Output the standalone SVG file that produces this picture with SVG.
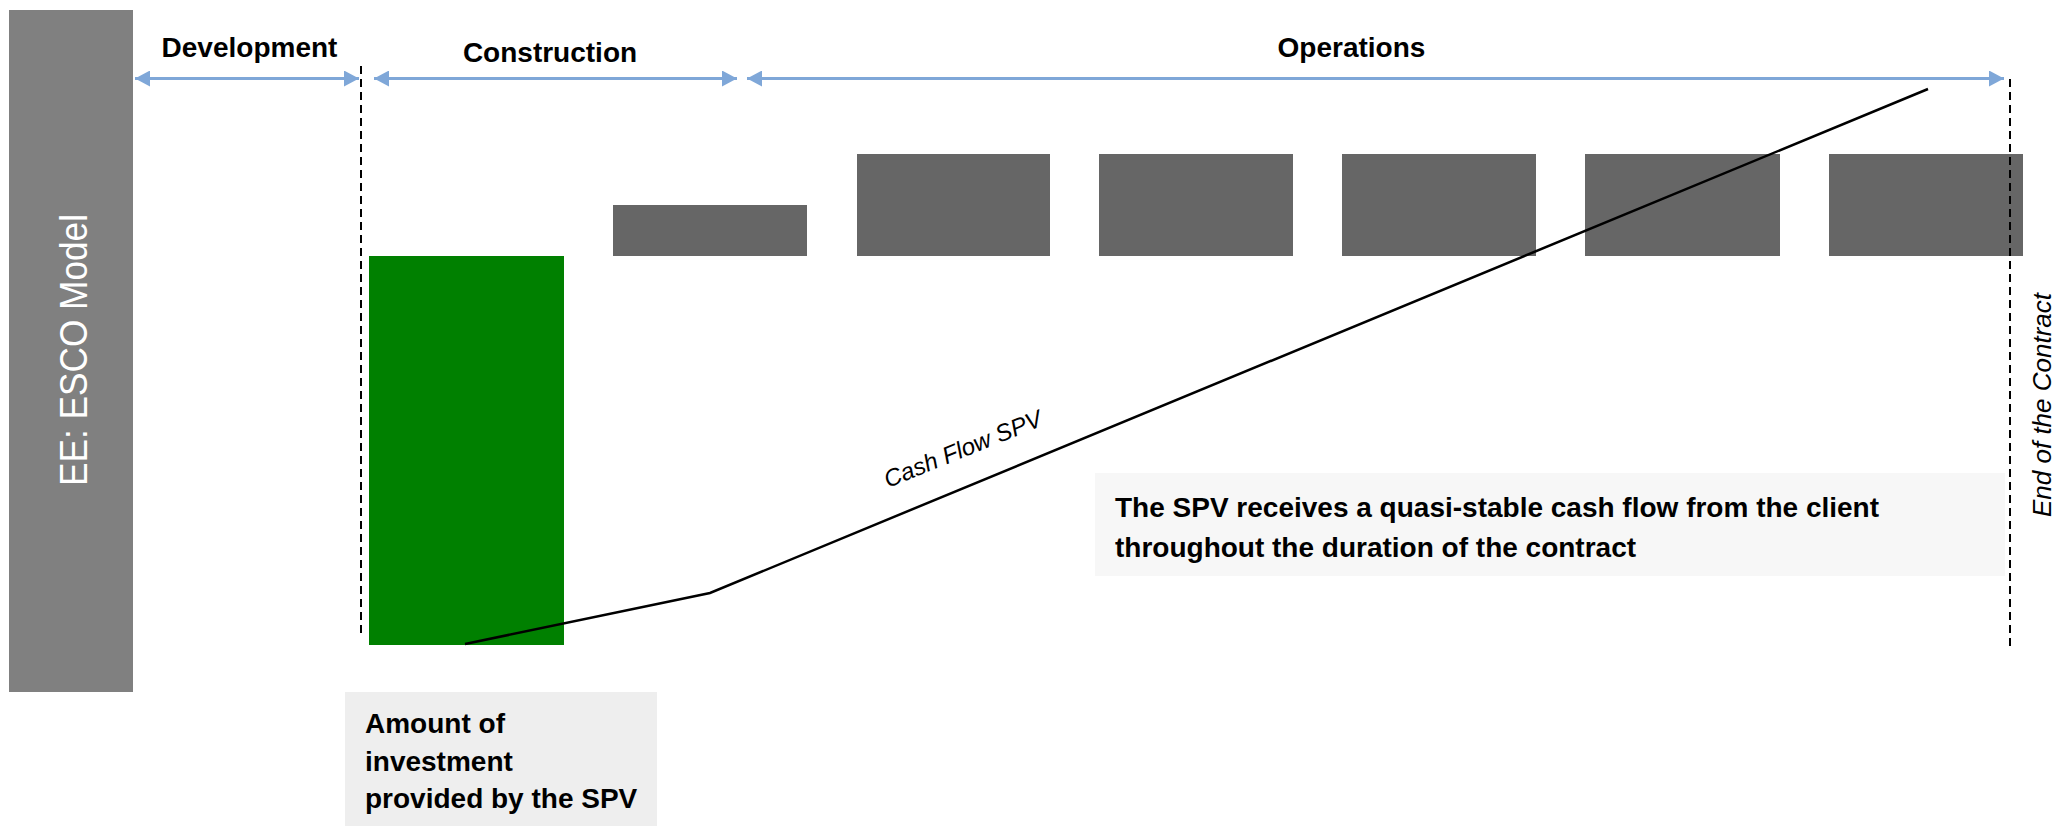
<svg xmlns="http://www.w3.org/2000/svg" width="2069" height="826" viewBox="0 0 2069 826">
  <style>
    .hdr { font-family: "Liberation Sans", Arial, sans-serif; font-weight: bold; font-size: 28px; fill: #000; text-anchor: middle; }
    .box { font-family: "Liberation Sans", Arial, sans-serif; font-weight: bold; font-size: 28px; fill: #000; }
    .ital { font-family: "Liberation Sans", Arial, sans-serif; font-style: italic; fill: #000; }
    .bar { fill: #666666; }
    .span { stroke: #7FA7D8; stroke-width: 3; fill: none; }
    .dash { stroke: #000; stroke-width: 2; stroke-dasharray: 8 5; fill: none; }
  </style>
  <defs>
    <marker id="ah" viewBox="0 0 15 16" refX="15" refY="8" markerWidth="15" markerHeight="16" markerUnits="userSpaceOnUse" orient="auto-start-reverse">
      <path d="M0,0 L15,8 L0,16 Z" fill="#7FA7D8"/>
    </marker>
  </defs>
  <rect width="2069" height="826" fill="#fff"/>

  <g id="title-bar">
    <rect x="9" y="10" width="124" height="682" fill="#808080"/>
    <text transform="translate(87,350) rotate(-90)" text-anchor="middle" font-family="Liberation Sans, Arial, sans-serif" font-size="38" fill="#fff" textLength="272" lengthAdjust="spacingAndGlyphs">EE: ESCO Model</text>
  </g>

  <g id="phase-development">
    <text class="hdr" x="249.5" y="57">Development</text>
  </g>
  <g id="phase-construction">
    <text class="hdr" x="550" y="62">Construction</text>
  </g>
  <g id="phase-operations">
    <text class="hdr" x="1351.5" y="57">Operations</text>
  </g>

  <g id="investment-bar">
    <rect x="369" y="256" width="195" height="389" fill="#008000"/>
  </g>

  <g id="cash-bars">
    <rect class="bar" x="613" y="205" width="194" height="51"/>
    <rect class="bar" x="857" y="154" width="193" height="102"/>
    <rect class="bar" x="1099" y="154" width="194" height="102"/>
    <rect class="bar" x="1342" y="154" width="194" height="102"/>
    <rect class="bar" x="1585" y="154" width="195" height="102"/>
    <rect class="bar" x="1829" y="154" width="194" height="102"/>
  </g>

  <g id="connectors">
    <line class="span" x1="135" y1="78.5" x2="359" y2="78.5" marker-start="url(#ah)" marker-end="url(#ah)"/>
    <line class="span" x1="374" y1="78.5" x2="737" y2="78.5" marker-start="url(#ah)" marker-end="url(#ah)"/>
    <line class="span" x1="747" y1="78.5" x2="2004" y2="78.5" marker-start="url(#ah)" marker-end="url(#ah)"/>
    <line class="dash" x1="361" y1="66" x2="361" y2="633"/>
    <line class="dash" x1="2010" y1="79" x2="2010" y2="647"/>
    <polyline points="465,644 710,593 1928,89" fill="none" stroke="#000" stroke-width="2.5"/>
  </g>

  <g id="cash-flow-label">
    <text class="ital" font-size="24" transform="translate(888,488) rotate(-22)">Cash Flow SPV</text>
  </g>

  <g id="end-of-contract">
    <text class="ital" font-size="26" text-anchor="middle" transform="translate(2051,405) rotate(-90)">End of the Contract</text>
  </g>

  <g id="note-investment">
    <rect x="345" y="692" width="312" height="134" fill="#EEEEEE"/>
    <text class="box" x="365" y="733">Amount of</text>
    <text class="box" x="365" y="771">investment</text>
    <text class="box" x="365" y="808">provided by the SPV</text>
  </g>

  <g id="note-cashflow">
    <rect x="1095" y="473" width="910" height="103" fill="#F7F7F7"/>
    <text class="box" x="1115" y="517">The SPV receives a quasi-stable cash flow from the client</text>
    <text class="box" x="1115" y="557">throughout the duration of the contract</text>
  </g>
</svg>
